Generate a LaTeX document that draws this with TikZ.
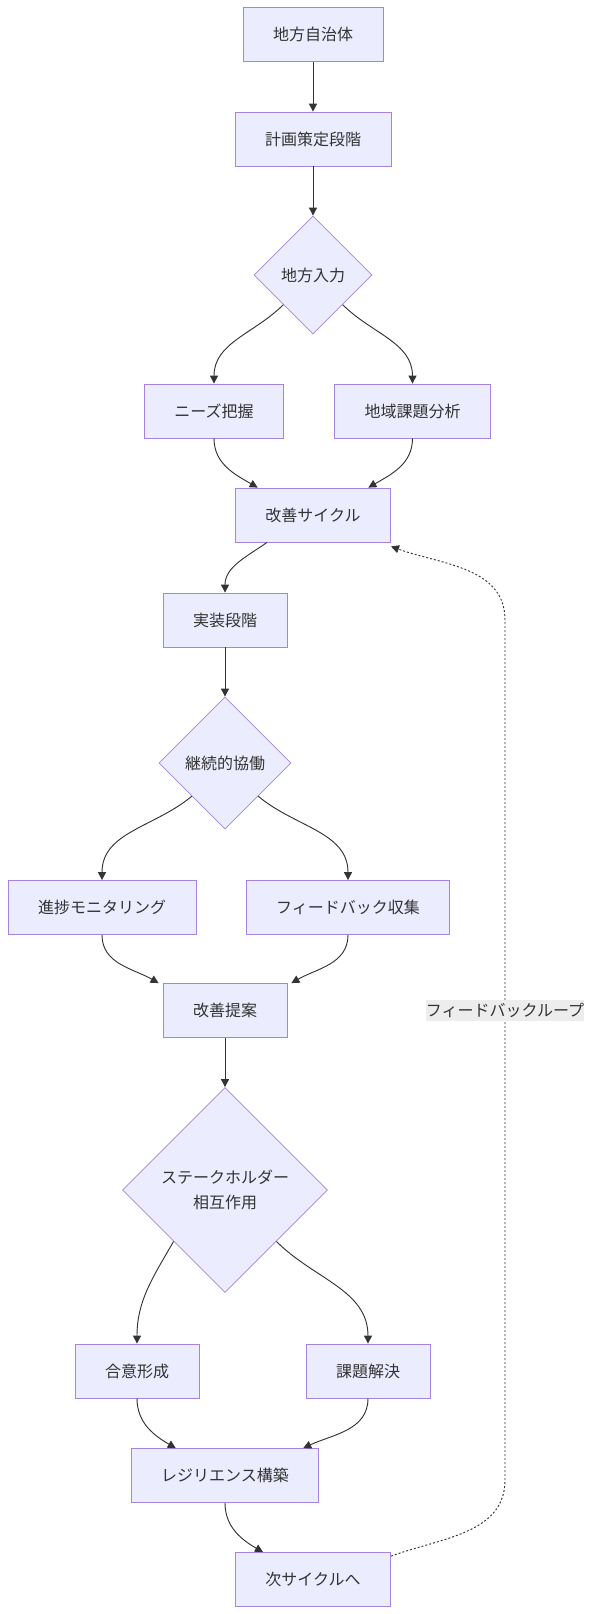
\documentclass[tikz,border=0pt]{standalone}
\usepackage{fontspec}
\newfontfamily\jpfont{Noto Sans CJK JP}
\usepackage{tikz}
\usetikzlibrary{arrows.meta}
\usetikzlibrary{shapes.geometric}
\definecolor{nodefill}{HTML}{ECECFF}
\definecolor{nodeline}{HTML}{9370DB}
\definecolor{edgeline}{HTML}{333333}
\definecolor{labelfill}{HTML}{EDEDED}

\begin{document}
\begin{tikzpicture}
  [x=0.75pt,y=0.75pt,
   box/.style={rectangle,draw=nodeline!85,fill=nodefill,line width=0.6pt,inner xsep=22.5pt,inner ysep=0pt,minimum height=40.5pt,text=edgeline,font=\jpfont\fontsize{12}{18.75}\selectfont},
   decision/.style={diamond,draw=nodeline!85,fill=nodefill,line width=0.6pt,inner sep=0pt,align=center,text=edgeline,font=\jpfont\fontsize{12}{18.75}\selectfont},
   arr/.style={-{Triangle[length=6pt,width=6pt]},draw=edgeline,line width=0.7pt},
   looplabel/.style={fill=labelfill,inner sep=0pt,minimum height=15.75pt,text=edgeline,font=\jpfont\fontsize{12}{14}\selectfont}]
  \useasboundingbox (0,0) rectangle (593,-1614);

  \node[box] (11) at (313,-34.5) {地方自治体};
  \node[box] (21) at (313,-139) {計画策定段階};
  \node[decision,minimum size=88.5pt] (31) at (313,-275) {地方入力};
  \node[box] (41) at (214,-411) {ニーズ把握};
  \node[box] (42) at (412.5,-411) {地域課題分析};
  \node[box] (51) at (313,-515) {改善サイクル};
  \node[box] (61) at (225,-620) {実装段階};
  \node[decision,minimum size=99pt] (71) at (225,-763) {継続的協働};
  \node[box] (81) at (102,-907.5) {進捗モニタリング};
  \node[box] (82) at (348,-907.5) {フィードバック収集};
  \node[box] (91) at (225,-1010.5) {改善提案};
  \node[decision,minimum size=153.75pt] (101) at (225,-1190) {ステークホルダー\\相互作用};
  \node[box] (111) at (137,-1371) {合意形成};
  \node[box] (112) at (368,-1371) {課題解決};
  \node[box] (121) at (225,-1475.5) {レジリエンス構築};
  \node[box] (131) at (313,-1579.5) {次サイクルへ};

  \coordinate (l1) at (505,-1480);
  \coordinate (l2) at (505,-620);

  \draw [arr] (11) -- (21);
  \draw [arr] (21) -- (31);
  \draw [arr] (31.south west) to[out=-135,in=90] (41.north);
  \draw [arr] (31.south east) to[out=-45,in=90] (42.north);
  \draw [arr] (41.south) to[out=-90,in=150] ([xshift=17pt]51.north west);
  \draw [arr] (42.south) to[out=-90,in=30] ([xshift=-17pt]51.north east);
  \draw [arr] ([xshift=-34.5pt]51.south) to[out=-145,in=90] (61.north);
  \draw [arr] (61) -- (71);
  \draw [arr] (71.south west) to[out=-140,in=90] (81.north);
  \draw [arr] (71.south east) to[out=-40,in=90] (82.north);
  \draw [arr] (81.south) to[out=-90,in=150] ([xshift=-3pt]91.north west);
  \draw [arr] (82.south) to[out=-90,in=30] ([xshift=3pt]91.north east);
  \draw [arr] (91) -- (101);
  \draw [arr] (101.south west) to[out=-120,in=90] (111.north);
  \draw [arr] (101.south east) to[out=-45,in=90] (112.north);
  \draw [arr] (111.south) to[out=-90,in=150] ([xshift=33.75pt]121.north west);
  \draw [arr] (112.south) to[out=-90,in=25] ([xshift=-12pt]121.north east);
  \draw [arr] (121.south) to[out=-90,in=150] ([xshift=21pt]131.north west);
  \draw [arr,dash pattern=on 1.5pt off 1.5pt] ([yshift=-3pt]131.north east) to[out=20,in=-90] (l1) -- (l2) to[out=90,in=-20] ([yshift=-3pt]51.south east);

  \node[looplabel] (lbl) at (505,-1010) {フィードバックループ};
\end{tikzpicture}
\end{document}
